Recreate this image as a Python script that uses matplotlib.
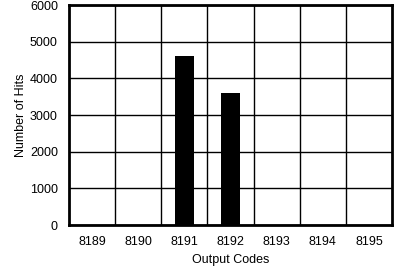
import matplotlib.pyplot as plt
import numpy as np

plt.rcParams['font.family'] = ['Liberation Sans', 'DejaVu Sans']

# data
codes = ['8189', '8190', '8191', '8192', '8193', '8194', '8195']
hits = [0, 0, 4600, 3600, 0, 0, 0]
y_ticks = [0, 1000, 2000, 3000, 4000, 5000, 6000]

fig = plt.figure(figsize=(4.07, 2.66), dpi=100)
ax = fig.add_axes([69 / 407, 41 / 266, 323 / 407, 220 / 266])

x = np.arange(len(codes))
ax.bar(x, hits, width=0.42, color='black', zorder=3)

ax.set_xlim(-0.5, len(codes) - 0.5)
ax.set_ylim(0, 6000)
ax.set_xticks(x)
ax.set_xticklabels(codes)
ax.set_xticks(np.arange(0.5, len(codes) - 0.5, 1), minor=True)
ax.set_yticks(y_ticks)

# grid lines between the categories and at every y tick
ax.grid(True, which='minor', axis='x', color='black', linewidth=1)
ax.grid(True, which='major', axis='y', color='black', linewidth=1)
ax.set_axisbelow(True)

ax.tick_params(which='both', length=0, labelsize=9, pad=8, colors='black')
for s in ax.spines.values():
    s.set_linewidth(2)

ax.set_xlabel('Output Codes', fontsize=9, labelpad=4)
ax.set_ylabel('Number of Hits', fontsize=9, labelpad=2)

fig.savefig('out.png', dpi=100)
